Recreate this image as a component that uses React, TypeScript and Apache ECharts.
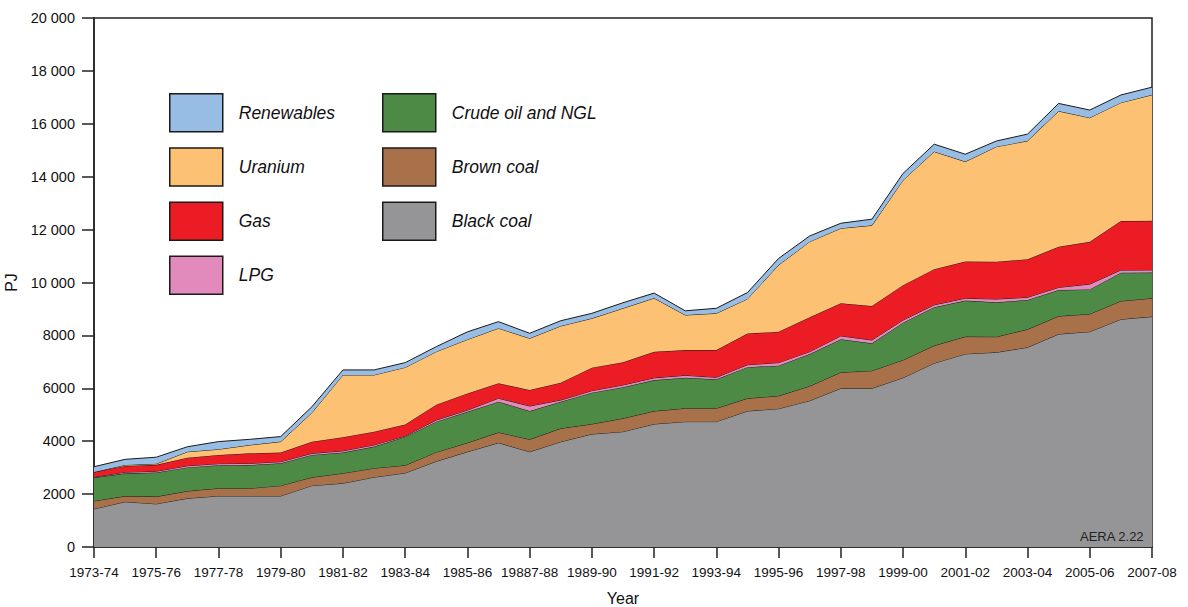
import React, { useEffect, useRef } from "react";
import * as echarts from "echarts";

const years = [
  "1973-74", "1974-75", "1975-76", "1976-77", "1977-78", "1978-79", "1979-80", "1980-81",
  "1981-82", "1982-83", "1983-84", "1984-85", "1985-86", "1986-87", "19887-88", "1988-89",
  "1989-90", "1990-91", "1991-92", "1992-93", "1993-94", "1994-95", "1995-96", "1996-97",
  "1997-98", "1998-99", "1999-00", "2000-01", "2001-02", "2002-03", "2003-04", "2004-05",
  "2005-06", "2006-07", "2007-08",
];

const blackCoal = [1440, 1710, 1630, 1840, 1930, 1930, 1930, 2320, 2410, 2640, 2800, 3240, 3600, 3940, 3600, 3980, 4270, 4360, 4650, 4740, 4740, 5140, 5230, 5530, 6000, 6000, 6400, 6950, 7300, 7360, 7550, 8050, 8140, 8610, 8710];
const brownCoal = [300, 215, 275, 275, 290, 290, 390, 315, 380, 340, 290, 345, 340, 395, 470, 505, 380, 505, 490, 505, 505, 480, 485, 555, 605, 665, 670, 665, 655, 590, 680, 680, 670, 690, 695];
const crudeOil = [885, 860, 910, 895, 870, 880, 845, 845, 780, 815, 1080, 1155, 1170, 1160, 1070, 1005, 1185, 1175, 1170, 1155, 1095, 1180, 1140, 1210, 1250, 1035, 1410, 1450, 1360, 1300, 1110, 985, 930, 1070, 970];
const lpg = [20, 45, 50, 60, 60, 60, 60, 60, 65, 65, 30, 60, 65, 130, 190, 65, 75, 85, 85, 90, 75, 90, 115, 90, 125, 125, 100, 90, 90, 125, 100, 100, 200, 100, 100];
const gas = [190, 235, 240, 305, 330, 380, 345, 440, 515, 500, 430, 580, 630, 565, 605, 655, 870, 860, 985, 955, 1030, 1180, 1170, 1300, 1235, 1285, 1320, 1350, 1385, 1410, 1440, 1535, 1600, 1855, 1855];
const uranium = [0, 35, 40, 225, 215, 315, 415, 1095, 2355, 2145, 2160, 2005, 2040, 2080, 1955, 2145, 1865, 2040, 2030, 1325, 1390, 1310, 2520, 2860, 2835, 3050, 3970, 4445, 3780, 4350, 4475, 5130, 4690, 4475, 4765];
const renewables = [200, 215, 250, 190, 290, 215, 190, 225, 190, 190, 180, 190, 290, 250, 190, 200, 190, 210, 190, 160, 190, 240, 250, 215, 190, 235, 255, 280, 280, 215, 255, 290, 290, 290, 290];

const seriesNames = ["Black coal", "Brown coal", "Crude oil and NGL", "LPG", "Gas", "Uranium", "Renewables"];
const seriesData = [blackCoal, brownCoal, crudeOil, lpg, gas, uranium, renewables];
const seriesColors = ["#959597", "#a8714a", "#4d8a45", "#e38abc", "#ec1c24", "#fcc173", "#98bde4"];

const legendLeft = ["Renewables", "Uranium", "Gas", "LPG"];
const legendRight = ["Crude oil and NGL", "Brown coal", "Black coal"];

const FONT = "'Liberation Sans', Arial, Helvetica, sans-serif";

export default function App() {
  const ref = useRef<HTMLDivElement>(null);

  useEffect(() => {
    if (!ref.current) return;
    const chart = echarts.init(ref.current, null, { renderer: "svg" });

    const legendCommon = {
      orient: "vertical" as const,
      top: 93,
      itemWidth: 53,
      itemHeight: 38,
      itemGap: 14.7,
      padding: 0,
      icon: "rect",
      selectedMode: false,
      itemStyle: { borderColor: "#1a1a1a", borderWidth: 1.5 },
      textStyle: {
        fontSize: 17.5,
        fontStyle: "italic" as const,
        fontFamily: FONT,
        color: "#111",
        padding: [0, 0, 0, 11],
        lineHeight: 20,
      },
    };

    chart.setOption({
      animation: false,
      textStyle: { fontFamily: FONT },
      grid: {
        left: 94,
        right: 36,
        top: 18,
        bottom: 60,
        show: true,
        borderColor: "#222",
        borderWidth: 1.5,
        backgroundColor: "transparent",
        containLabel: false,
        outerBoundsMode: "none",
      },
      legend: [
        { ...legendCommon, left: 169, data: legendLeft },
        { ...legendCommon, left: 382, data: legendRight },
      ],
      xAxis: {
        type: "category",
        data: years,
        boundaryGap: false,
        name: "Year",
        nameLocation: "middle",
        nameGap: 43,
        nameTextStyle: { fontSize: 16, color: "#111", fontFamily: FONT },
        axisLine: { lineStyle: { color: "#222", width: 1.5 } },
        axisTick: { interval: 1, length: 11, lineStyle: { color: "#222", width: 1.5 } },
        axisLabel: {
          interval: 1,
          fontSize: 13.5,
          fontFamily: FONT,
          color: "#111",
          margin: 18,
        },
        splitLine: { show: false },
      },
      yAxis: {
        type: "value",
        min: 0,
        max: 20000,
        interval: 2000,
        name: "PJ",
        nameLocation: "middle",
        nameGap: 69,
        nameTextStyle: { fontSize: 16, color: "#111", fontFamily: FONT },
        axisLine: { show: true, lineStyle: { color: "#222", width: 1.5 } },
        axisTick: { show: true, length: 12, lineStyle: { color: "#222", width: 1.5 } },
        axisLabel: {
          fontSize: 14.5,
          color: "#111",
          margin: 19,
          formatter: (v: number) =>
            v >= 10000 ? `${Math.floor(v / 1000)} ${String(v % 1000).padStart(3, "0")}` : String(v),
        },
        splitLine: { show: false },
      },
      graphic: [
        {
          type: "text",
          left: 1080,
          top: 530,
          style: { text: "AERA 2.22", fontSize: 13, fill: "#222", fontFamily: FONT },
          z: 100,
        },
      ],
      series: seriesNames.map((name, i) => ({
        name,
        type: "line",
        stack: "total",
        data: seriesData[i],
        symbol: "none",
        showSymbol: false,
        color: seriesColors[i],
        lineStyle: { color: "#1a1a1a", width: 1 },
        areaStyle: { color: seriesColors[i], opacity: 1 },
        itemStyle: { color: seriesColors[i] },
        emphasis: { disabled: true },
        z: 2 + i,
      })),
    });

    return () => chart.dispose();
  }, []);

  return (
    <div
      ref={ref}
      style={{ position: "fixed", left: 0, top: 0, width: 1188, height: 607, background: "#fff" }}
    />
  );
}
